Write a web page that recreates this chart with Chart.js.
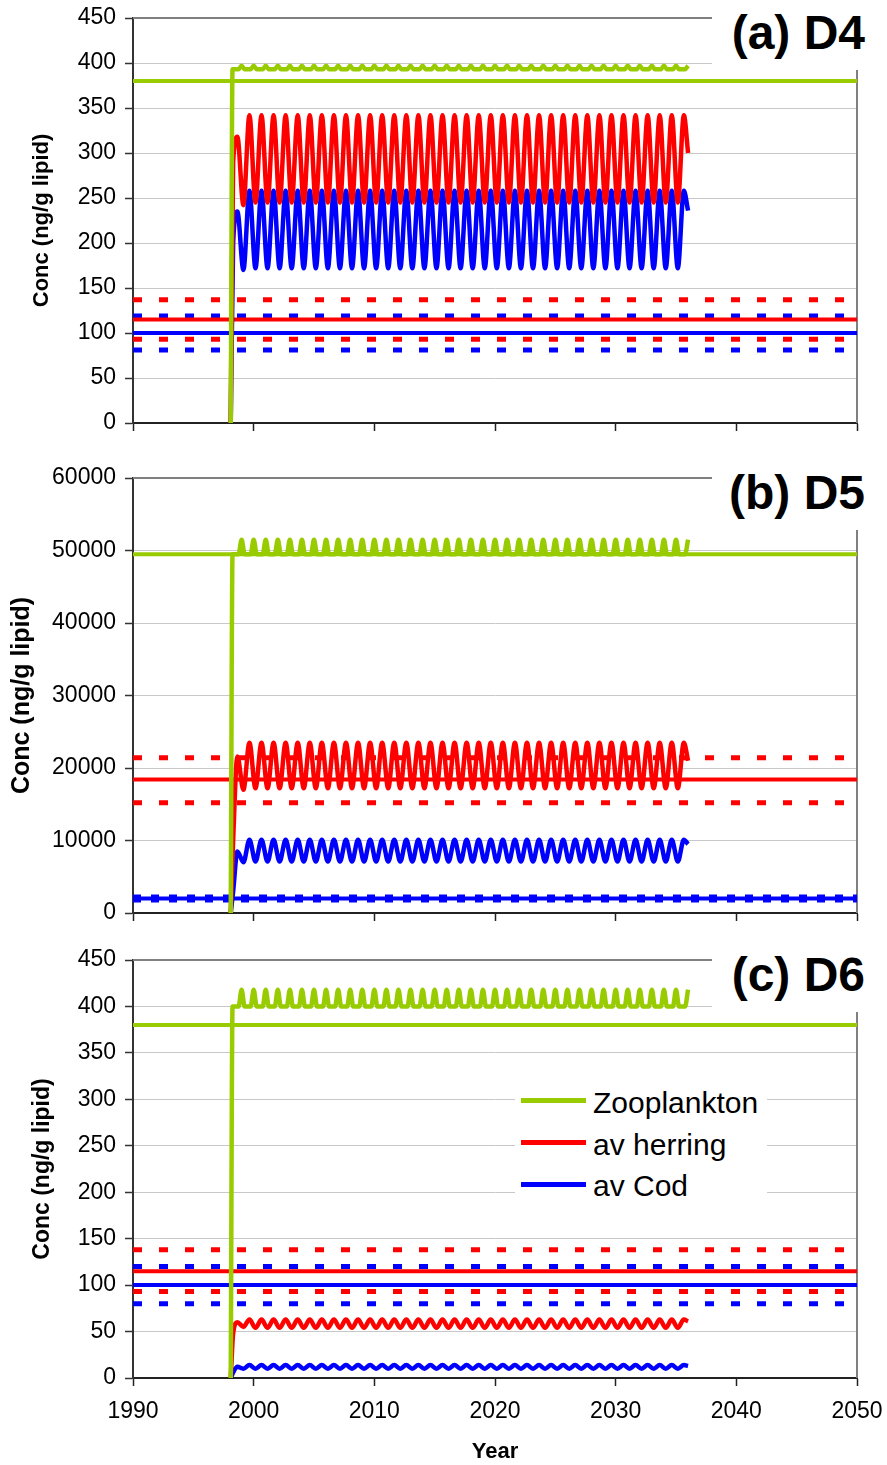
<!DOCTYPE html>
<html>
<head>
<meta charset="utf-8">
<script src="https://cdn.jsdelivr.net/npm/chart.js@4.4.1/dist/chart.umd.min.js"></script>
<style>
  html, body { margin: 0; padding: 0; background: #fff; }
  #page { position: relative; width: 887px; height: 1465px; overflow: hidden; font-family: "Liberation Sans", Arial, sans-serif; }
  canvas { position: absolute; left: 0; }
  .tag { position: absolute; left: 712px; width: 153px; height: 61px; padding: 9px 22px 0 0; background: #fff;
         text-align: right; font-weight: bold; font-size: 48px; line-height: 48px; color: #000; }
  #legend { position: absolute; left: 515px; top: 1080px; width: 252px; height: 126px; background: #fff; }
  #legend .row { display: flex; align-items: center; height: 41.8px; font-size: 30px; color: #000; }
  #legend .swatch { display: inline-block; width: 65px; height: 5px; margin: 0 7px 0 6px; }
  #legend .txt { position: relative; top: 2px; }
</style>
</head>
<body>
<div id="page">
  <canvas id="ca" width="887" height="440" style="top:0"></canvas>
  <canvas id="cb" width="887" height="490" style="top:440px"></canvas>
  <canvas id="cc" width="887" height="535" style="top:930px"></canvas>
  <div id="legend"></div>
</div>
<script>
// years where the herring / cod curves turn (start, rise, then trough/peak each half year)
const oscYears = [1998.1, 1998.3, 1998.65,
  1999.15, 1999.65, 2000.15, 2000.65, 2001.15, 2001.65, 2002.15, 2002.65, 2003.15, 2003.65, 2004.15, 2004.65,
  2005.15, 2005.65, 2006.15, 2006.65, 2007.15, 2007.65, 2008.15, 2008.65, 2009.15, 2009.65, 2010.15, 2010.65,
  2011.15, 2011.65, 2012.15, 2012.65, 2013.15, 2013.65, 2014.15, 2014.65, 2015.15, 2015.65, 2016.15, 2016.65,
  2017.15, 2017.65, 2018.15, 2018.65, 2019.15, 2019.65, 2020.15, 2020.65, 2021.15, 2021.65, 2022.15, 2022.65,
  2023.15, 2023.65, 2024.15, 2024.65, 2025.15, 2025.65, 2026.15, 2026.65, 2027.15, 2027.65, 2028.15, 2028.65,
  2029.15, 2029.65, 2030.15, 2030.65, 2031.15, 2031.65, 2032.15, 2032.65, 2033.15, 2033.65, 2034.15, 2034.65,
  2035.15, 2035.65, 2036.0];

// years for the zooplankton curves (flat, with one short spike per year)
const zooYears = [1998.1, 1998.25,
  1998.75, 1999, 1999.25, 1999.75, 2000, 2000.25, 2000.75, 2001, 2001.25, 2001.75, 2002, 2002.25,
  2002.75, 2003, 2003.25, 2003.75, 2004, 2004.25, 2004.75, 2005, 2005.25, 2005.75, 2006, 2006.25,
  2006.75, 2007, 2007.25, 2007.75, 2008, 2008.25, 2008.75, 2009, 2009.25, 2009.75, 2010, 2010.25,
  2010.75, 2011, 2011.25, 2011.75, 2012, 2012.25, 2012.75, 2013, 2013.25, 2013.75, 2014, 2014.25,
  2014.75, 2015, 2015.25, 2015.75, 2016, 2016.25, 2016.75, 2017, 2017.25, 2017.75, 2018, 2018.25,
  2018.75, 2019, 2019.25, 2019.75, 2020, 2020.25, 2020.75, 2021, 2021.25, 2021.75, 2022, 2022.25,
  2022.75, 2023, 2023.25, 2023.75, 2024, 2024.25, 2024.75, 2025, 2025.25, 2025.75, 2026, 2026.25,
  2026.75, 2027, 2027.25, 2027.75, 2028, 2028.25, 2028.75, 2029, 2029.25, 2029.75, 2030, 2030.25,
  2030.75, 2031, 2031.25, 2031.75, 2032, 2032.25, 2032.75, 2033, 2033.25, 2033.75, 2034, 2034.25,
  2034.75, 2035, 2035.25,
  2035.75, 2036];

// (a) D4
const zooA = [0, 393,
  393, 397, 393, 393, 397, 393, 393, 397, 393, 393, 397, 393,
  393, 397, 393, 393, 397, 393, 393, 397, 393, 393, 397, 393,
  393, 397, 393, 393, 397, 393, 393, 397, 393, 393, 397, 393,
  393, 397, 393, 393, 397, 393, 393, 397, 393, 393, 397, 393,
  393, 397, 393, 393, 397, 393, 393, 397, 393, 393, 397, 393,
  393, 397, 393, 393, 397, 393, 393, 397, 393, 393, 397, 393,
  393, 397, 393, 393, 397, 393, 393, 397, 393, 393, 397, 393,
  393, 397, 393, 393, 397, 393, 393, 397, 393, 393, 397, 393,
  393, 397, 393, 393, 397, 393, 393, 397, 393, 393, 397, 393,
  393, 397, 393,
  393, 397];
const herringA = [0, 290, 318,
  242, 342, 245, 342, 245, 342, 245, 342, 245, 342, 245, 342,
  245, 342, 245, 342, 245, 342, 245, 342, 245, 342, 245, 342,
  245, 342, 245, 342, 245, 342, 245, 342, 245, 342, 245, 342,
  245, 342, 245, 342, 245, 342, 245, 342, 245, 342, 245, 342,
  245, 342, 245, 342, 245, 342, 245, 342, 245, 342, 245, 342,
  245, 342, 245, 342, 245, 342, 245, 342, 245, 342, 245, 342,
  245, 342, 300];
const codA = [0, 200, 235,
  170, 258, 172, 258, 172, 258, 172, 258, 172, 258, 172, 258,
  172, 258, 172, 258, 172, 258, 172, 258, 172, 258, 172, 258,
  172, 258, 172, 258, 172, 258, 172, 258, 172, 258, 172, 258,
  172, 258, 172, 258, 172, 258, 172, 258, 172, 258, 172, 258,
  172, 258, 172, 258, 172, 258, 172, 258, 172, 258, 172, 258,
  172, 258, 172, 258, 172, 258, 172, 258, 172, 258, 172, 258,
  172, 258, 236];

// (b) D5
const zooB = [0, 49500,
  49500, 51500, 49500, 49500, 51500, 49500, 49500, 51500, 49500, 49500, 51500, 49500,
  49500, 51500, 49500, 49500, 51500, 49500, 49500, 51500, 49500, 49500, 51500, 49500,
  49500, 51500, 49500, 49500, 51500, 49500, 49500, 51500, 49500, 49500, 51500, 49500,
  49500, 51500, 49500, 49500, 51500, 49500, 49500, 51500, 49500, 49500, 51500, 49500,
  49500, 51500, 49500, 49500, 51500, 49500, 49500, 51500, 49500, 49500, 51500, 49500,
  49500, 51500, 49500, 49500, 51500, 49500, 49500, 51500, 49500, 49500, 51500, 49500,
  49500, 51500, 49500, 49500, 51500, 49500, 49500, 51500, 49500, 49500, 51500, 49500,
  49500, 51500, 49500, 49500, 51500, 49500, 49500, 51500, 49500, 49500, 51500, 49500,
  49500, 51500, 49500, 49500, 51500, 49500, 49500, 51500, 49500, 49500, 51500, 49500,
  49500, 51500, 49500,
  49500, 51500];
const herringB = [0, 10000, 21600,
  17000, 23500, 17200, 23500, 17200, 23500, 17200, 23500, 17200, 23500, 17200, 23500,
  17200, 23500, 17200, 23500, 17200, 23500, 17200, 23500, 17200, 23500, 17200, 23500,
  17200, 23500, 17200, 23500, 17200, 23500, 17200, 23500, 17200, 23500, 17200, 23500,
  17200, 23500, 17200, 23500, 17200, 23500, 17200, 23500, 17200, 23500, 17200, 23500,
  17200, 23500, 17200, 23500, 17200, 23500, 17200, 23500, 17200, 23500, 17200, 23500,
  17200, 23500, 17200, 23500, 17200, 23500, 17200, 23500, 17200, 23500, 17200, 23500,
  17200, 23500, 21000];
const codB = [0, 3000, 8500,
  7000, 10100, 7100, 10100, 7100, 10100, 7100, 10100, 7100, 10100, 7100, 10100,
  7100, 10100, 7100, 10100, 7100, 10100, 7100, 10100, 7100, 10100, 7100, 10100,
  7100, 10100, 7100, 10100, 7100, 10100, 7100, 10100, 7100, 10100, 7100, 10100,
  7100, 10100, 7100, 10100, 7100, 10100, 7100, 10100, 7100, 10100, 7100, 10100,
  7100, 10100, 7100, 10100, 7100, 10100, 7100, 10100, 7100, 10100, 7100, 10100,
  7100, 10100, 7100, 10100, 7100, 10100, 7100, 10100, 7100, 10100, 7100, 10100,
  7100, 10100, 9500];

// (c) D6
const zooC = [0, 400,
  400, 418, 400, 400, 418, 400, 400, 418, 400, 400, 418, 400,
  400, 418, 400, 400, 418, 400, 400, 418, 400, 400, 418, 400,
  400, 418, 400, 400, 418, 400, 400, 418, 400, 400, 418, 400,
  400, 418, 400, 400, 418, 400, 400, 418, 400, 400, 418, 400,
  400, 418, 400, 400, 418, 400, 400, 418, 400, 400, 418, 400,
  400, 418, 400, 400, 418, 400, 400, 418, 400, 400, 418, 400,
  400, 418, 400, 400, 418, 400, 400, 418, 400, 400, 418, 400,
  400, 418, 400, 400, 418, 400, 400, 418, 400, 400, 418, 400,
  400, 418, 400, 400, 418, 400, 400, 418, 400, 400, 418, 400,
  400, 418, 400,
  400, 418];
const herringC = [0, 48, 60,
  55, 63, 54, 63, 54, 63, 54, 63, 54, 63, 54, 63,
  54, 63, 54, 63, 54, 63, 54, 63, 54, 63, 54, 63,
  54, 63, 54, 63, 54, 63, 54, 63, 54, 63, 54, 63,
  54, 63, 54, 63, 54, 63, 54, 63, 54, 63, 54, 63,
  54, 63, 54, 63, 54, 63, 54, 63, 54, 63, 54, 63,
  54, 63, 54, 63, 54, 63, 54, 63, 54, 63, 54, 63,
  54, 63, 61];
const codC = [0, 6, 12,
  10, 14, 10, 14, 10, 14, 10, 14, 10, 14, 10, 14,
  10, 14, 10, 14, 10, 14, 10, 14, 10, 14, 10, 14,
  10, 14, 10, 14, 10, 14, 10, 14, 10, 14, 10, 14,
  10, 14, 10, 14, 10, 14, 10, 14, 10, 14, 10, 14,
  10, 14, 10, 14, 10, 14, 10, 14, 10, 14, 10, 14,
  10, 14, 10, 14, 10, 14, 10, 14, 10, 14, 10, 14,
  10, 14, 13];

// horizontal reference levels, one entry per panel [a, b, c]
const zooLevel     = [380, 49500, 380];
const herringLevel = [115, 18400, 115];
const herringHigh  = [137, 21400, 138];
const herringLow   = [93, 15200, 93];
const codLevel     = [100, 2000, 100];
const codHigh      = [119, 2200, 120];
const codLow       = [81, 1800, 80];
const levelSpan    = [1990, 2050];

const xTicks = [1990, 2000, 2010, 2020, 2030, 2040, 2050];
const yMax   = [450, 60000, 450];
const yStep  = [50, 10000, 50];
const panelTitles = ['(a) D4', '(b) D5', '(c) D6'];
const seriesNames = ['Zooplankton', 'av herring', 'av Cod'];

const GREEN = '#99cc00', RED = '#ff0000', BLUE = '#0000ff';
const FONT = '"Liberation Sans", Arial, sans-serif';

const pts = (xs, ys) => xs.map((x, i) => ({ x, y: ys[i] }));

// top + right frame of the plot area
const frame = {
  id: 'frame',
  beforeDatasetsDraw(chart) {
    const { ctx, chartArea: a } = chart;
    ctx.save();
    ctx.strokeStyle = '#808080';
    ctx.lineWidth = 2;
    ctx.beginPath();
    ctx.moveTo(a.left, a.top);
    ctx.lineTo(a.right, a.top);
    ctx.lineTo(a.right, a.bottom);
    ctx.stroke();
    ctx.restore();
  }
};

function buildDatasets(i, zoo, herring, cod) {
  const curve = (xs, ys, color) => ({
    data: pts(xs, ys), borderColor: color, borderWidth: 4.5,
    cubicInterpolationMode: 'monotone', borderJoinStyle: 'round'
  });
  const level = (v, color, dash) => ({
    data: pts(levelSpan, [v, v]), borderColor: color,
    borderWidth: dash ? 5 : 4, borderDash: dash || []
  });
  const dash = [9, 17];
  const codDash = i === 1 ? [8, 10] : dash;
  return [
    curve(zooYears, zoo, GREEN),
    curve(oscYears, herring, RED),
    curve(oscYears, cod, BLUE),
    level(zooLevel[i], GREEN),
    level(herringLevel[i], RED),
    level(herringHigh[i], RED, dash),
    level(herringLow[i], RED, dash),
    level(codLevel[i], BLUE),
    level(codHigh[i], BLUE, codDash),
    level(codLow[i], BLUE, codDash)
  ];
}

function makePanel(canvasId, i, datasets, p) {
  return new Chart(document.getElementById(canvasId), {
    type: 'line',
    data: { datasets },
    plugins: [frame],
    options: {
      responsive: false,
      devicePixelRatio: 1,
      animation: false,
      events: [],
      layout: { padding: { left: p.padLeft, top: p.padTop, right: 30, bottom: 0 } },
      elements: { point: { radius: 0 }, line: { fill: false, tension: 0 } },
      plugins: { legend: { display: false }, tooltip: { enabled: false } },
      scales: {
        x: {
          type: 'linear', min: 1990, max: 2050,
          afterBuildTicks: s => { s.ticks = xTicks.map(v => ({ value: v })); },
          afterFit: s => { s.height = p.xHeight; s.paddingLeft = 0; s.paddingRight = 0; },
          grid: { drawOnChartArea: false, drawTicks: true, tickLength: 8, tickColor: '#222', tickWidth: 1.5 },
          border: { color: '#222', width: 2 },
          ticks: {
            display: p.showX, color: '#000', padding: 12, maxRotation: 0, autoSkip: false,
            font: { family: FONT, size: 23 }, callback: v => String(v)
          },
          title: {
            display: p.showX, text: 'Year', color: '#000', padding: 0,
            font: { family: FONT, size: 22, weight: 'bold' }
          }
        },
        y: {
          min: 0, max: yMax[i],
          afterFit: s => { s.width = 133 - p.padLeft; s.paddingTop = 0; s.paddingBottom = 0; },
          grid: { color: '#c8c8c8', lineWidth: 1, tickColor: '#333', tickLength: 8, tickWidth: 1.5 },
          border: { color: '#333', width: 2 },
          ticks: {
            stepSize: yStep[i], color: '#000', padding: 9,
            font: { family: FONT, size: 23 }, callback: v => String(v)
          },
          title: {
            display: true, text: 'Conc (ng/g lipid)', color: '#000', padding: 0,
            font: { family: FONT, size: p.titleSize, weight: 'bold' }
          }
        }
      }
    }
  });
}

makePanel('ca', 0, buildDatasets(0, zooA, herringA, codA),
  { padLeft: 28.8, padTop: 18, xHeight: 17, titleSize: 22, showX: false });
makePanel('cb', 1, buildDatasets(1, zooB, herringB, codB),
  { padLeft: 7.5, padTop: 38, xHeight: 17, titleSize: 25, showX: false });
makePanel('cc', 2, buildDatasets(2, zooC, herringC, codC),
  { padLeft: 29.2, padTop: 30, xHeight: 87, titleSize: 23, showX: true });

// panel labels
const page = document.getElementById('page');
[0, 460, 942].forEach((top, i) => {
  const tag = document.createElement('div');
  tag.className = 'tag';
  tag.style.top = top + 'px';
  tag.textContent = panelTitles[i];
  page.appendChild(tag);
});

// legend inside panel (c)
const legend = document.getElementById('legend');
[GREEN, RED, BLUE].forEach((color, i) => {
  const row = document.createElement('div');
  row.className = 'row';
  const sw = document.createElement('span');
  sw.className = 'swatch';
  sw.style.background = color;
  const txt = document.createElement('span');
  txt.className = 'txt';
  txt.textContent = seriesNames[i];
  row.appendChild(sw);
  row.appendChild(txt);
  legend.appendChild(row);
});
</script>
</body>
</html>
